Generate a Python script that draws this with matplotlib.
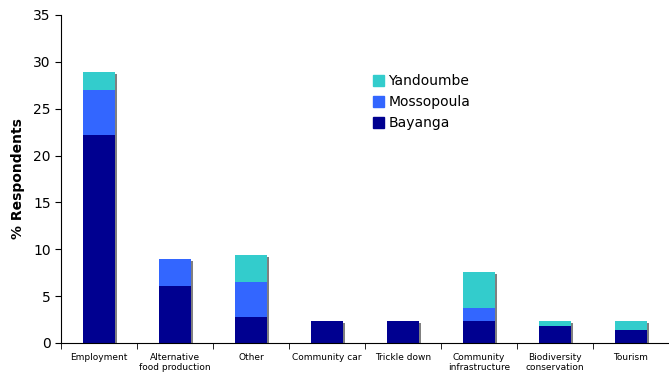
import matplotlib
matplotlib.use('Agg')
import matplotlib.pyplot as plt
import matplotlib.transforms as mtransforms
from matplotlib.patches import Patch
import numpy as np

categories = ['Employment', 'Alternative\nfood production', 'Other', 'Community car',
              'Trickle down', 'Community\ninfrastructure', 'Biodiversity\nconservation', 'Tourism']
bayanga = [22.2, 6.1, 2.8, 2.4, 2.4, 2.3, 1.8, 1.4]
mossopoula = [4.8, 2.9, 3.7, 0, 0, 1.4, 0, 0]
yandoumbe = [1.9, 0, 2.9, 0, 0, 3.9, 0.6, 1.0]

c_bay = '#000090'
c_mos = '#3366ff'
c_yan = '#33cccc'

plt.rcParams['font.family'] = ['DejaVu Sans']

fig = plt.figure(figsize=(6.69, 3.79), dpi=100)
ax = fig.add_axes([61/669, 1 - 343/379, 608/669, 328/379])

x = np.arange(len(categories))
w = 0.41
bay = np.array(bayanga)
mos = np.array(mossopoula)
yan = np.array(yandoumbe)
total = bay + mos + yan

# grey drop shadow behind each stack
shadow_tr = mtransforms.offset_copy(ax.transData, fig=fig, x=2, y=-2, units='dots')
ax.bar(x, total, w, color='#808080', transform=shadow_tr, zorder=1)

ax.bar(x, bay, w, color=c_bay, zorder=2)
ax.bar(x, mos, w, bottom=bay, color=c_mos, zorder=2)
ax.bar(x, yan, w, bottom=bay + mos, color=c_yan, zorder=2)

ax.set_xlim(-0.5, len(categories) - 0.5)
ax.set_ylim(0, 35)
ax.set_yticks(range(0, 36, 5))
ax.tick_params(axis='y', labelsize=10, length=4, direction='out')

ax.set_xticks(x)
ax.set_xticklabels(categories, fontsize=6.5)
ax.tick_params(axis='x', length=0, pad=7)
ax.set_xticks(np.arange(-0.5, len(categories), 1), minor=True)
ax.tick_params(axis='x', which='minor', length=4, direction='out')

ax.spines['top'].set_visible(False)
ax.spines['right'].set_visible(False)
ax.set_ylabel('% Respondents', fontsize=10, fontweight='bold', labelpad=6)

handles = [Patch(color=c_yan, label='Yandoumbe'),
           Patch(color=c_mos, label='Mossopoula'),
           Patch(color=c_bay, label='Bayanga')]
ax.legend(handles=handles, loc='upper left', bbox_to_anchor=(0.493, 0.857), frameon=False,
          fontsize=10, handlelength=0.8, handleheight=0.8, handletextpad=0.3, labelspacing=0.5)

fig.savefig('out.png', dpi=100)
